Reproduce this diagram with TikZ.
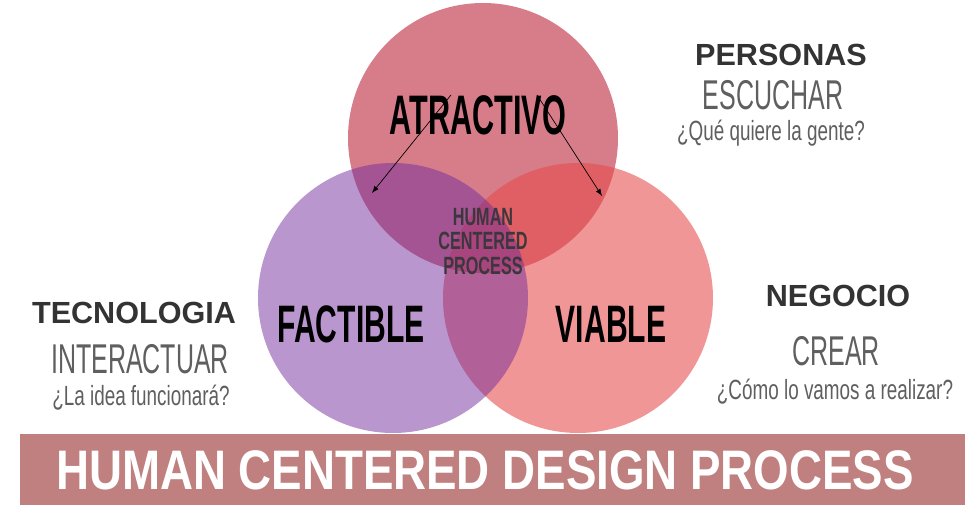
\documentclass[tikz,border=0pt]{standalone}
\usepackage{fontspec}
\setmainfont{Liberation Sans}
\usetikzlibrary{arrows,positioning}

\definecolor{rose1}{RGB}{215,125,138}
\definecolor{violet1}{RGB}{115,45,155}
\definecolor{coral1}{RGB}{229,74,74}
\definecolor{band1}{RGB}{192,128,128}
\definecolor{head1}{RGB}{51,51,51}
\definecolor{thin1}{RGB}{95,95,95}
\definecolor{center1}{RGB}{60,55,60}

\tikzstyle{arrow} = [draw, -latex, thin]
\tikzstyle{heading} = [text=head1, font=\fontsize{17.4}{20}\selectfont\bfseries, inner sep=0pt]
\tikzstyle{verb} = [text=thin1, font=\fontsize{23.7}{26}\selectfont, xscale=0.6, inner sep=0pt]
\tikzstyle{question} = [text=thin1, font=\fontsize{15.8}{18}\selectfont, xscale=0.68, inner sep=0pt]
\tikzstyle{big} = [text=black, font=\fontsize{30}{32}\selectfont\bfseries, xscale=0.57, inner sep=0pt]

\begin{document}
\begin{tikzpicture}
    \useasboundingbox (0,0) rectangle (19.3,10.1);

    % circles
    \fill[rose1] (9.66,7.34) circle (2.7);
    \fill[coral1, fill opacity=0.58] (11.56,4.14) circle (2.7);
    \fill[violet1, fill opacity=0.5] (7.86,4.14) circle (2.7);

    % circle labels
    \node[text=black, font=\fontsize{31.7}{34}\selectfont\bfseries, xscale=0.55, inner sep=0pt]
        (atr) at (9.56,7.80) {ATRACTIVO};
    \node[big] (fac) at (7.02,3.62) {FACTIBLE};
    \node[big] (via) at (12.22,3.62) {VIABLE};
    \node[text=center1, font=\fontsize{14.2}{14.2}\selectfont\bfseries, xscale=0.65,
        align=center, inner sep=0pt] (hcp) at (9.66,5.27) {HUMAN\\CENTERED\\PROCESS};

    % arrows
    \coordinate (a1) at (9.02,8.20);
    \coordinate (b1) at (7.44,6.24);
    \coordinate (a2) at (10.74,8.20);
    \coordinate (b2) at (12.04,6.18);
    \path[arrow] (a1) -- (b1);
    \path[arrow] (a2) -- (b2);

    % side texts
    \node[heading] (per) at (15.62,9.00) {PERSONAS};
    \node[verb] (esc) at (15.46,8.20) {ESCUCHAR};
    \node[question] (que) at (15.42,7.44) {¿Qué quiere la gente?};

    \node[heading] (tec) at (2.68,3.84) {TECNOLOGIA};
    \node[verb] (int) at (2.80,2.92) {INTERACTUAR};
    \node[question] (fun) at (2.82,2.14) {¿La idea funcionará?};

    \node[heading] (neg) at (16.76,4.18) {NEGOCIO};
    \node[verb] (cre) at (16.72,3.08) {CREAR};
    \node[question] (rea) at (16.70,2.26) {¿Cómo lo vamos a realizar?};

    % banner
    \fill[band1] (0.4,0) rectangle (19.3,1.42);
    \node[text=white, font=\fontsize{31.7}{34}\selectfont\bfseries, xscale=0.82, inner sep=0pt]
        (ban) at (9.70,0.70) {HUMAN CENTERED DESIGN PROCESS};
\end{tikzpicture}
\end{document}
